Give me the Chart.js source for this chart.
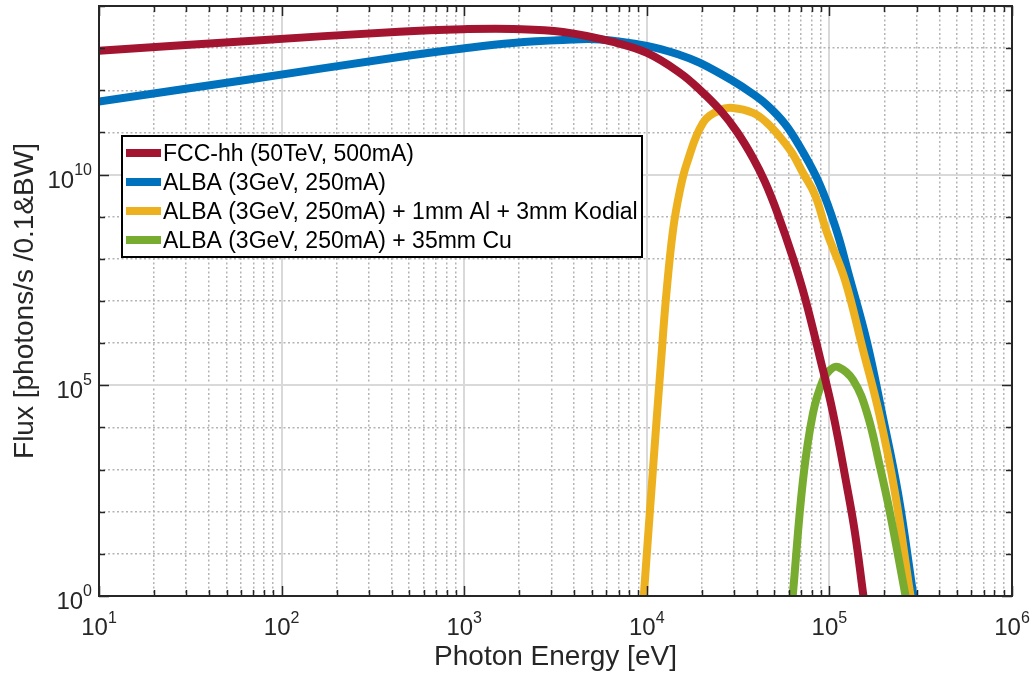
<!DOCTYPE html>
<html>
<head>
<meta charset="utf-8">
<script src="https://cdn.jsdelivr.net/npm/chart.js@4.4.0/dist/chart.umd.min.js"></script>
<style>
  html,body{margin:0;padding:0;background:#fff}
  #wrap{width:1034px;height:681px}
</style>
</head>
<body>
<div id="wrap"><canvas id="c" width="1034" height="681"></canvas></div>
<script>
// Photon energy [eV] and flux (values under 1 sit just below the axis, clipped)
const FCC_E=[10,66.3,440,985,1851,3476,6530,10025,15200,19560,25170,31190,38150,44380,51640,63180,73530,88830,104600,124900,138100,152800,158700];
const FCC_F=[8.71e12,1.48e13,2.46e13,2.81e13,2.85e13,2.42e13,1.40e13,7.69e12,2.58e12,1.02e12,3.41e11,1.03e11,2.48e10,6.67e9,1.30e9,1.05e8,1.18e7,4.45e5,2.2e4,386,31.3,1.18,0.35];

const ALBA_E=[10,66.3,440,985,1851,3476,5541,10025,15200,19560,29660,36740,45520,57140,69030,88830,110050,126500,160500,194200,237500,287000,298100];
const ALBA_F=[5.37e11,1.81e12,6.18e12,9.83e12,1.33e13,1.56e13,1.61e13,1.13e13,6.89e12,4.45e12,1.66e12,9.12e11,4.49e11,1.59e11,4.51e10,5.66e9,4.35e8,4.89e7,1.07e6,2.2e4,278,1.18,0.42];

const KOD_E=[9494,9654,10410,11230,11960,12740,13920,15200,16600,20320,25170,29660,38150,44950,53630,62420,71690,83420,97020,121700,152800,186900,228700,276400,287000];
const KOD_F=[0.4,1.18,110,9700,3.57e5,1.18e7,4.84e8,4.31e9,1.88e10,1.68e11,3.41e11,3.80e11,2.90e11,1.77e11,7.81e10,3.26e10,1.09e10,3.28e9,4.18e8,3.15e7,6.88e5,2.2e4,278,1.18,0.42];

const CU_E=[61790,63180,71690,81340,92260,100800,111500,134700,160700,189300,214700,259400,271200];
const CU_F=[0.4,1.18,566,2.2e4,1.34e5,2.31e5,2.72e5,1.34e5,2.2e4,1150,93.3,1.18,0.42];

const LABELS=['FCC-hh (50TeV, 500mA)','ALBA (3GeV, 250mA)','ALBA (3GeV, 250mA) + 1mm Al + 3mm Kodial','ALBA (3GeV, 250mA) + 35mm Cu'];
const COLORS=['#A2142F','#0072BD','#EDB120','#77AC30'];

const X_LABEL_EXP=[1,2,3,4,5,6];
const Y_LABEL_EXP=[0,5,10];
const Y_MAX_EXP=14;
const X_TITLE='Photon Energy [eV]';
const Y_TITLE='Flux [photons/s /0.1&BW]';

const FONT='"Liberation Sans", Arial, Helvetica, sans-serif';
const AX='#262626';

const pts=(xs,ys)=>xs.map((x,i)=>({x,y:ys[i]}));
const isDecade=v=>Math.abs(Math.log10(v)-Math.round(Math.log10(v)))<1e-9;
const xMajor=v=>isDecade(v);
const yMajor=v=>Y_LABEL_EXP.includes(Math.round(Math.log10(v)));

function xTicks(){
  const t=[];
  for(let e=X_LABEL_EXP[0];e<X_LABEL_EXP[X_LABEL_EXP.length-1];e++)
    for(let m=1;m<10;m++) t.push({value:m*Math.pow(10,e)});
  t.push({value:Math.pow(10,X_LABEL_EXP[X_LABEL_EXP.length-1])});
  return t;
}
function yTicks(){
  const t=[];
  for(let e=0;e<=Y_MAX_EXP;e++) t.push({value:Math.pow(10,e)});
  return t;
}

// "10" with a raised exponent
function pow10(ctx,exp,x,y,supY,align){
  ctx.font='24px '+FONT;
  const w1=ctx.measureText('10').width;
  ctx.font='16px '+FONT;
  const w2=ctx.measureText(String(exp)).width;
  const x0=align==='right'?x-w1-w2:x-(w1+w2)/2;
  ctx.textAlign='left'; ctx.textBaseline='alphabetic';
  ctx.font='24px '+FONT; ctx.fillText('10',x0,y);
  ctx.font='16px '+FONT; ctx.fillText(String(exp),x0+w1,supY);
}

const decor={
  id:'decor',
  afterDraw(chart){
    const ctx=chart.ctx, ca=chart.chartArea;
    const xs=chart.scales.x, ys=chart.scales.y;
    ctx.save();
    ctx.fillStyle=AX; ctx.strokeStyle=AX;

    // inward ticks, all four sides
    ctx.lineWidth=1.5;
    ctx.beginPath();
    xs.ticks.forEach(t=>{
      const p=Math.round(xs.getPixelForValue(t.value))+0.5, L=xMajor(t.value)?10:6;
      ctx.moveTo(p,ca.bottom); ctx.lineTo(p,ca.bottom-L);
      ctx.moveTo(p,ca.top); ctx.lineTo(p,ca.top+L);
    });
    ys.ticks.forEach(t=>{
      const p=Math.round(ys.getPixelForValue(t.value))+0.5, L=yMajor(t.value)?10:6;
      ctx.moveTo(ca.left,p); ctx.lineTo(ca.left+L,p);
      ctx.moveTo(ca.right,p); ctx.lineTo(ca.right-L,p);
    });
    ctx.stroke();

    // box
    ctx.lineWidth=2;
    ctx.strokeRect(ca.left,ca.top,ca.right-ca.left,ca.bottom-ca.top);

    // tick labels
    X_LABEL_EXP.forEach(e=>{
      const p=xs.getPixelForValue(Math.pow(10,e));
      pow10(ctx,e,p,ca.bottom+39,ca.bottom+27,'center');
    });
    Y_LABEL_EXP.forEach(e=>{
      const p=ys.getPixelForValue(Math.pow(10,e));
      pow10(ctx,e,ca.left-7,p+13,p,'right');
    });

    // axis titles
    ctx.font='28px '+FONT; ctx.textAlign='center'; ctx.textBaseline='alphabetic';
    ctx.fillText(X_TITLE,(ca.left+ca.right)/2,665);
    ctx.save();
    ctx.translate(33,(ca.top+ca.bottom)/2); ctx.rotate(-Math.PI/2);
    ctx.fillText(Y_TITLE,0,0);
    ctx.restore();

    // legend
    const lx=122,ly=136,lw=520,lh=121,row=29;
    ctx.fillStyle='#fff'; ctx.fillRect(lx,ly,lw,lh);
    ctx.strokeStyle='#000'; ctx.lineWidth=2; ctx.strokeRect(lx,ly,lw,lh);
    chart.data.datasets.forEach((ds,i)=>{
      const cy=ly+17+i*row;
      ctx.strokeStyle=ds.borderColor; ctx.lineWidth=8; ctx.lineCap='butt';
      ctx.beginPath(); ctx.moveTo(lx+4,cy); ctx.lineTo(lx+39,cy); ctx.stroke();
      ctx.fillStyle='#000'; ctx.font='23px '+FONT; ctx.textAlign='left';
      ctx.fillText(ds.label,lx+41,cy+8);
    });
    ctx.restore();
  }
};

const series=[[FCC_E,FCC_F],[ALBA_E,ALBA_F],[KOD_E,KOD_F],[CU_E,CU_F]];
// red on top, then green, yellow, blue underneath
const drawOrder=[0,3,2,1];

new Chart(document.getElementById('c'),{
  type:'line',
  data:{datasets:series.map((s,i)=>({
    label:LABELS[i],
    data:pts(s[0],s[1]),
    borderColor:COLORS[i],
    backgroundColor:COLORS[i],
    borderWidth:8,
    pointRadius:0,
    fill:false,
    tension:0.4,
    borderJoinStyle:'round',
    clip:0,
    order:drawOrder[i]
  }))},
  options:{
    responsive:false,
    animation:false,
    events:[],
    layout:{padding:{top:6,right:22,left:0,bottom:0}},
    plugins:{legend:{display:false},tooltip:{enabled:false}},
    scales:{
      x:{
        type:'logarithmic',min:10,max:1e6,
        afterBuildTicks:s=>{s.ticks=xTicks();},
        afterFit:s=>{s.height=85;},
        ticks:{display:false},
        border:{display:false,dash:c=>(c.tick&&!xMajor(c.tick.value))?[2,2.5]:[]},
        grid:{drawTicks:false,
          color:c=>(c.tick&&xMajor(c.tick.value))?'#d9d9d9':'#b4b4b4',
          lineWidth:c=>(c.tick&&xMajor(c.tick.value))?2:1.5}
      },
      y:{
        type:'logarithmic',min:1,max:Math.pow(10,Y_MAX_EXP),
        afterBuildTicks:s=>{s.ticks=yTicks();},
        afterFit:s=>{s.width=99;},
        ticks:{display:false},
        border:{display:false,dash:c=>(c.tick&&!yMajor(c.tick.value))?[2,2.5]:[]},
        grid:{drawTicks:false,
          color:c=>(c.tick&&yMajor(c.tick.value))?'#d9d9d9':'#b4b4b4',
          lineWidth:c=>(c.tick&&yMajor(c.tick.value))?2:1.5}
      }
    }
  },
  plugins:[decor]
});
</script>
</body>
</html>
